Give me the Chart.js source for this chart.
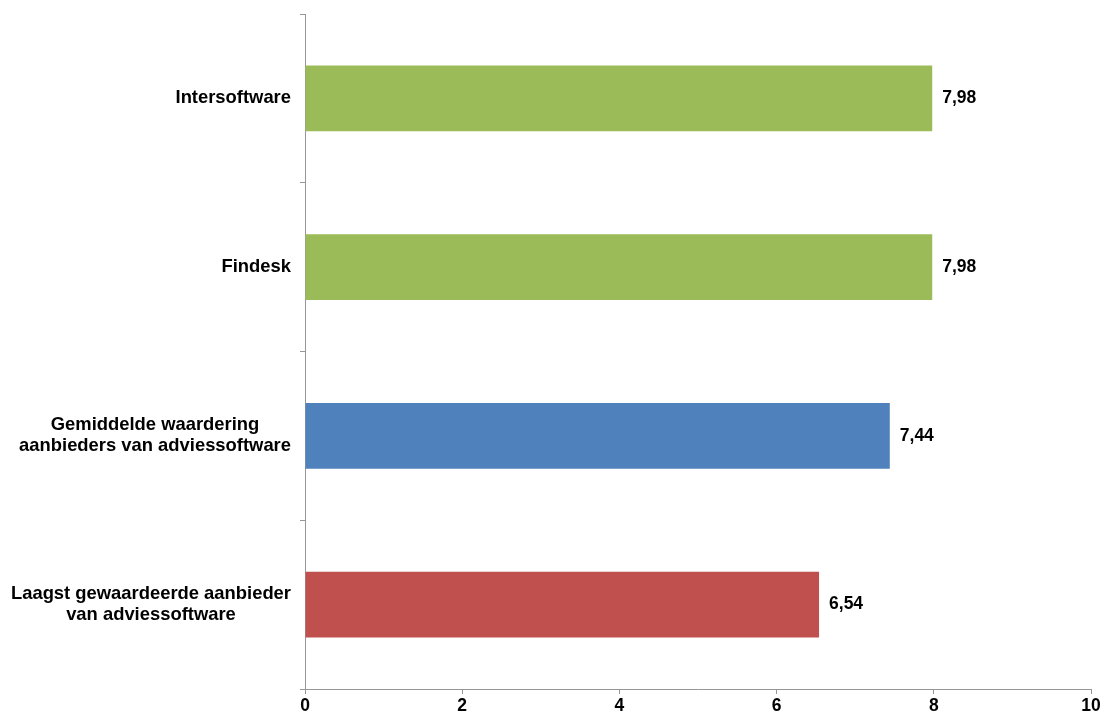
<!DOCTYPE html>
<html>
<head>
<meta charset="utf-8">
<script src="https://cdn.jsdelivr.net/npm/chart.js@4"></script>
<style>
  html, body { margin: 0; padding: 0; background: #fff; }
  #wrap { width: 1104px; height: 717px; position: relative; }
</style>
</head>
<body>
<div id="wrap"><canvas id="c" width="1104" height="717"></canvas></div>
<script>
const categories = [
  ["Intersoftware"],
  ["Findesk"],
  ["Gemiddelde waardering", "aanbieders van adviessoftware"],
  ["Laagst gewaardeerde aanbieder", "van adviessoftware"]
];
const values = [7.98, 7.98, 7.44, 6.54];
const barColors = ["#9BBB59", "#9BBB59", "#4F81BD", "#C0504D"];
const xTicks = [0, 2, 4, 6, 8, 10];

const FONT = "'Liberation Sans', Arial, sans-serif";

const labelPlugin = {
  id: 'labels',
  afterDraw(chart) {
    const ctx = chart.ctx;
    const y = chart.scales.y;
    ctx.save();
    ctx.fillStyle = '#000';
    ctx.font = 'bold 18.4px ' + FONT;
    ctx.textBaseline = 'middle';
    const rightEdge = chart.chartArea.left - 14;
    categories.forEach((lines, i) => {
      const cy = y.getPixelForValue(i);
      const widths = lines.map(l => ctx.measureText(l).width);
      const bw = Math.max(...widths);
      const cx = rightEdge - bw / 2;
      const lh = 21;
      const top = cy - (lines.length - 1) * lh / 2;
      ctx.textAlign = 'center';
      lines.forEach((l, k) => ctx.fillText(l, cx, top + k * lh));
    });
    const meta = chart.getDatasetMeta(0);
    ctx.font = 'bold 17.5px ' + FONT;
    ctx.textAlign = 'left';
    meta.data.forEach((bar, i) => {
      ctx.fillText(values[i].toFixed(2).replace('.', ','), bar.x + 10, bar.y);
    });
    ctx.restore();
  }
};

new Chart(document.getElementById('c'), {
  type: 'bar',
  data: {
    labels: categories.map(c => c.join(' ')),
    datasets: [{
      data: values,
      backgroundColor: barColors,
      borderWidth: 0,
      categoryPercentage: 1.0,
      barPercentage: 0.39
    }]
  },
  options: {
    indexAxis: 'y',
    responsive: false,
    animation: false,
    devicePixelRatio: 1,
    layout: { padding: { top: 14, right: 13, left: 0, bottom: 0 } },
    plugins: { legend: { display: false }, tooltip: { enabled: false } },
    scales: {
      x: {
        min: 0, max: 10,
        afterBuildTicks(scale) { scale.ticks = xTicks.map(v => ({ value: v })); },
        afterFit(scale) { scale.height = 28; },
        grid: { display: true, drawOnChartArea: false, drawTicks: true, tickLength: 5, color: '#969696' },
        border: { display: true, color: '#969696', width: 1 },
        ticks: { color: '#000', font: { family: FONT, size: 17.5, weight: 'bold' }, padding: 2, maxRotation: 0 }
      },
      y: {
        afterFit(scale) { scale.width = 305; },
        grid: { display: true, drawOnChartArea: false, drawTicks: true, tickLength: 5, color: '#969696', offset: true },
        border: { display: true, color: '#969696', width: 1 },
        ticks: { display: false }
      }
    }
  },
  plugins: [labelPlugin]
});
</script>
</body>
</html>
